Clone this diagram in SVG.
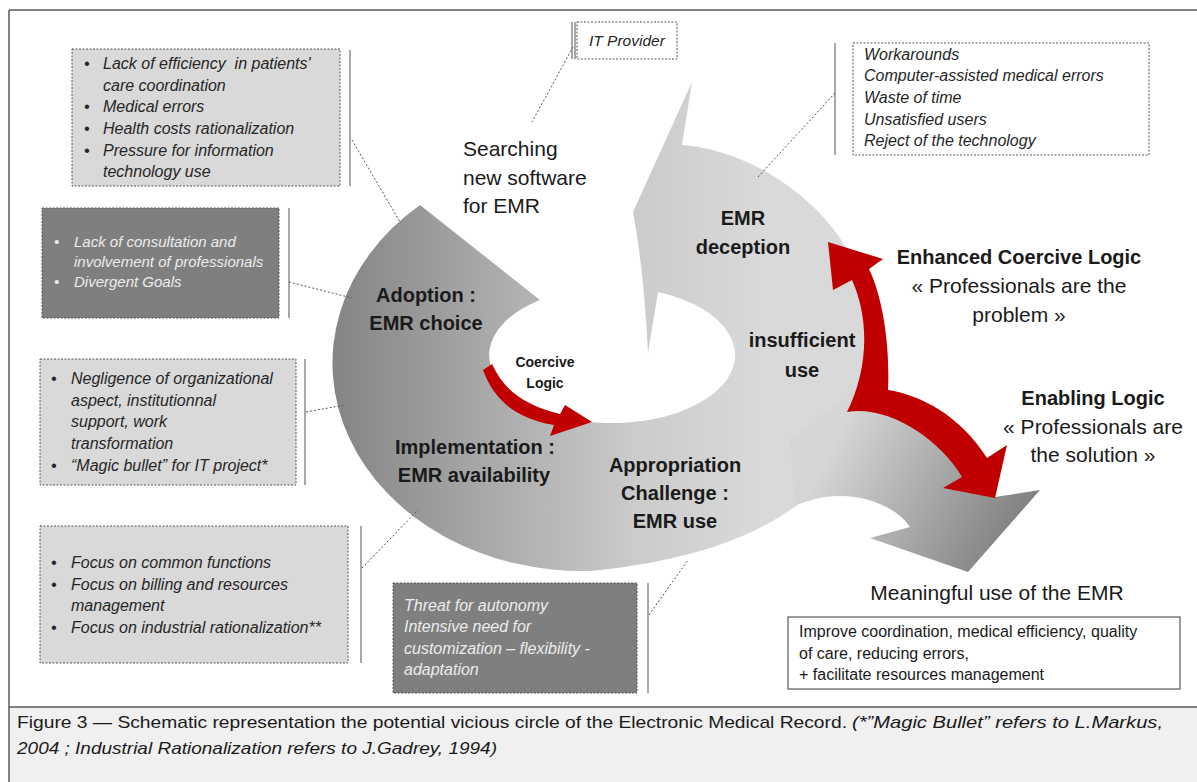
<svg xmlns="http://www.w3.org/2000/svg" width="1197" height="782" viewBox="0 0 1197 782">
<defs>
<style>
.frame{stroke:#5a5a5a;stroke-width:1.5;fill:none}
.boxL{fill:#d9d9d9;stroke:#595959;stroke-width:1;stroke-dasharray:2,1.5}
.boxD{fill:#7f7f7f;stroke:#595959;stroke-width:1;stroke-dasharray:2,1.5}
.boxW{fill:#ffffff;stroke:#595959;stroke-width:1;stroke-dasharray:2,1.5}
.boxS{fill:#ffffff;stroke:#595959;stroke-width:1.2}
.side{stroke:#6f6f6f;stroke-width:1.2;fill:none}
.conn{stroke:#555;stroke-width:1;stroke-dasharray:2,2;fill:none}
.red{fill:#c00000}
.it{font-family:"Liberation Sans",Arial,sans-serif;font-style:italic;font-size:16px;fill:#262626}
.itw{font-family:"Liberation Sans",Arial,sans-serif;font-style:italic;font-size:15px;fill:#ececec}
.itw16{font-family:"Liberation Sans",Arial,sans-serif;font-style:italic;font-size:16px;fill:#ececec}
.rg{font-family:"Liberation Sans",Arial,sans-serif;font-size:16px;fill:#1a1a1a}
.big{font-family:"Liberation Sans",Arial,sans-serif;font-size:21px;fill:#1a1a1a}
.bold{font-family:"Liberation Sans",Arial,sans-serif;font-weight:bold;font-size:20px;fill:#1a1a1a;text-anchor:middle}
.mid{text-anchor:middle}
.cap{font-family:"Liberation Sans",Arial,sans-serif;font-size:17px;fill:#1a1a1a}
</style>
<linearGradient id="ringGrad" gradientUnits="userSpaceOnUse" x1="342" y1="0" x2="760" y2="0">
<stop offset="0" stop-color="#868686"/>
<stop offset="0.35" stop-color="#a9a9a9"/>
<stop offset="0.7" stop-color="#cbcbcb"/>
<stop offset="1" stop-color="#d9d9d9"/>
</linearGradient>
<linearGradient id="branchGrad" gradientUnits="userSpaceOnUse" x1="840" y1="430" x2="1030" y2="530">
<stop offset="0" stop-color="#d6d6d6"/>
<stop offset="1" stop-color="#7c7c7c"/>
</linearGradient>
</defs>

<rect x="0" y="0" width="1197" height="782" fill="#ffffff"/>
<g id="frame">
<rect x="9" y="707" width="1190" height="76" fill="#f0f0f0"/>
<line class="frame" x1="9" y1="10" x2="1197" y2="10"/>
<line class="frame" x1="9" y1="10" x2="9" y2="782"/>
<line class="frame" x1="9" y1="707" x2="1197" y2="707"/>
</g>

<g id="cycle">
<path fill="url(#ringGrad)" d="M 420,205 L 540,300 A 123,68 0 1,0 658,292 L 648,353 Q 644,270 633,212 L 692,82 L 682,145 C 750,150 830,200 860,275 C 880,330 878,380 860,420 C 845,460 820,490 800,503 C 760,533 700,560 590,571 A 250,208 0 0,1 420,205 Z"/>
<path fill="url(#branchGrad)" d="M 790,440 L 862,385 C 900,400 950,430 995,497 L 1040,490 L 968,572 L 870,538 L 910,527 C 895,505 860,492 825,497 C 812,499 802,503 795,506 Z"/>
</g>

<g id="connectors">
<line class="conn" x1="352" y1="140" x2="400" y2="222"/>
<line class="conn" x1="289" y1="282" x2="352" y2="298"/>
<line class="conn" x1="306" y1="412" x2="345" y2="405"/>
<line class="conn" x1="362" y1="568" x2="418" y2="510"/>
<line class="conn" x1="649" y1="615" x2="688" y2="560"/>
<line class="conn" x1="573" y1="47" x2="532" y2="122"/>
<line class="conn" x1="835" y1="93" x2="758" y2="177"/>
</g>

<g id="red-arrows">
<path class="red" d="M 492,364 C 505,392 525,405 560,414 L 565,405 L 592,422 L 550,436 L 554,425 C 515,418 494,400 483,370 Z"/>
<path class="red" d="M 828,242 L 883,259 L 869,269 C 884,300 890,350 888,390 C 920,395 960,415 987,458 L 1007,445 L 995,498 L 943,488 L 962,477 C 940,440 890,405 847,412 C 868,370 870,320 852,280 L 833,290 Z"/>
</g>

<g id="box-drivers">
<rect class="boxL" x="72" y="49" width="268" height="137"/>
<line class="side" x1="350" y1="50" x2="350" y2="186"/>
<text class="it" xml:space="preserve"><tspan x="84" y="69">•</tspan><tspan x="103" y="69">Lack of efficiency  in patients'</tspan></text>
<text class="it" x="103" y="91">care coordination</text>
<text class="it"><tspan x="84" y="112">•</tspan><tspan x="103" y="112">Medical errors</tspan></text>
<text class="it"><tspan x="84" y="134">•</tspan><tspan x="103" y="134">Health costs rationalization</tspan></text>
<text class="it"><tspan x="84" y="156">•</tspan><tspan x="103" y="156">Pressure for information</tspan></text>
<text class="it" x="103" y="177">technology use</text>
</g>

<g id="box-consultation">
<rect class="boxD" x="42" y="208" width="237" height="110"/>
<line class="side" x1="289" y1="208" x2="289" y2="318"/>
<text class="itw"><tspan x="54" y="247">•</tspan><tspan x="74" y="247">Lack of consultation and</tspan></text>
<text class="itw" x="74" y="267">involvement of professionals</text>
<text class="itw"><tspan x="54" y="287">•</tspan><tspan x="74" y="287">Divergent Goals</tspan></text>
</g>

<g id="box-negligence">
<rect class="boxL" x="40" y="359" width="256" height="126"/>
<line class="side" x1="305" y1="359" x2="305" y2="485"/>
<text class="it"><tspan x="51" y="384">•</tspan><tspan x="71" y="384">Negligence of organizational</tspan></text>
<text class="it" x="71" y="406">aspect, institutionnal</text>
<text class="it" x="71" y="427">support, work</text>
<text class="it" x="71" y="449">transformation</text>
<text class="it"><tspan x="51" y="471">•</tspan><tspan x="71" y="471">“Magic bullet” for IT project*</tspan></text>
</g>

<g id="box-focus">
<rect class="boxL" x="40" y="526" width="308" height="137"/>
<line class="side" x1="361" y1="526" x2="361" y2="663"/>
<text class="it"><tspan x="51" y="568">•</tspan><tspan x="71" y="568">Focus on common functions</tspan></text>
<text class="it"><tspan x="51" y="590">•</tspan><tspan x="71" y="590">Focus on billing and resources</tspan></text>
<text class="it" x="71" y="611">management</text>
<text class="it"><tspan x="51" y="633">•</tspan><tspan x="71" y="633">Focus on industrial rationalization**</tspan></text>
</g>

<g id="box-threat">
<rect class="boxD" x="393" y="583" width="244" height="110"/>
<line class="side" x1="648" y1="583" x2="648" y2="693"/>
<text class="itw16" x="404" y="611">Threat for autonomy</text>
<text class="itw16" x="404" y="632">Intensive need for</text>
<text class="itw16" x="404" y="654">customization – flexibility -</text>
<text class="itw16" x="404" y="675">adaptation</text>
</g>

<g id="box-provider">
<rect class="boxW" x="577" y="22" width="100" height="37"/>
<line class="side" x1="572" y1="22" x2="572" y2="59"/>
<line class="side" x1="575" y1="22" x2="575" y2="59"/>
<text class="it" x="589" y="46" style="font-size:15.5px">IT Provider</text>
</g>

<g id="box-workarounds">
<rect class="boxW" x="853" y="43" width="296" height="112"/>
<line class="side" x1="835" y1="43" x2="835" y2="155"/>
<text class="it" x="864" y="60">Workarounds</text>
<text class="it" x="864" y="81">Computer-assisted medical errors</text>
<text class="it" x="864" y="103">Waste of time</text>
<text class="it" x="864" y="125">Unsatisfied users</text>
<text class="it" x="864" y="146">Reject of the technology</text>
</g>

<g id="box-outcome">
<rect class="boxS" x="788" y="617" width="392" height="72"/>
<text class="rg" x="799" y="637">Improve coordination, medical efficiency, quality</text>
<text class="rg" x="799" y="659">of care, reducing errors,</text>
<text class="rg" x="799" y="680">+ facilitate resources management</text>
</g>

<g id="label-searching">
<text class="big" x="463" y="156">Searching</text>
<text class="big" x="463" y="185">new software</text>
<text class="big" x="463" y="213">for EMR</text>
</g>

<g id="label-deception">
<text class="bold" x="743" y="225">EMR</text>
<text class="bold" x="743" y="254">deception</text>
</g>

<g id="label-adoption">
<text class="bold" x="426" y="302">Adoption :</text>
<text class="bold" x="426" y="330">EMR choice</text>
</g>

<g id="label-coercive">
<text class="bold" x="545" y="367" style="font-size:14px">Coercive</text>
<text class="bold" x="545" y="388" style="font-size:14px">Logic</text>
</g>

<g id="label-insufficient">
<text class="bold" x="802" y="347">insufficient</text>
<text class="bold" x="802" y="377">use</text>
</g>

<g id="label-implementation">
<text class="bold" x="475" y="454">Implementation :</text>
<text class="bold" x="474" y="482">EMR availability</text>
</g>

<g id="label-appropriation">
<text class="bold" x="675" y="472">Appropriation</text>
<text class="bold" x="675" y="500">Challenge :</text>
<text class="bold" x="675" y="528">EMR use</text>
</g>

<g id="label-enhanced">
<text class="bold" x="1019" y="264">Enhanced Coercive Logic</text>
<text class="big mid" x="1019" y="293">« Professionals are the</text>
<text class="big mid" x="1019" y="322">problem »</text>
</g>

<g id="label-enabling">
<text class="bold" x="1093" y="405">Enabling Logic</text>
<text class="big mid" x="1093" y="434">« Professionals are</text>
<text class="big mid" x="1093" y="462">the solution »</text>
</g>

<g id="label-meaningful">
<text class="big mid" x="997" y="600">Meaningful use of the EMR</text>
</g>

<g id="caption">
<text class="cap" x="17" y="728" textLength="830" lengthAdjust="spacingAndGlyphs">Figure 3 — Schematic representation the potential vicious circle of the Electronic Medical Record.</text>
<text class="cap" x="852" y="728" textLength="311" lengthAdjust="spacingAndGlyphs" font-style="italic">(*”Magic Bullet” refers to L.Markus,</text>
<text class="cap" x="17" y="754" textLength="480" lengthAdjust="spacingAndGlyphs" font-style="italic">2004 ; Industrial Rationalization refers to J.Gadrey, 1994)</text>
</g>
</svg>
